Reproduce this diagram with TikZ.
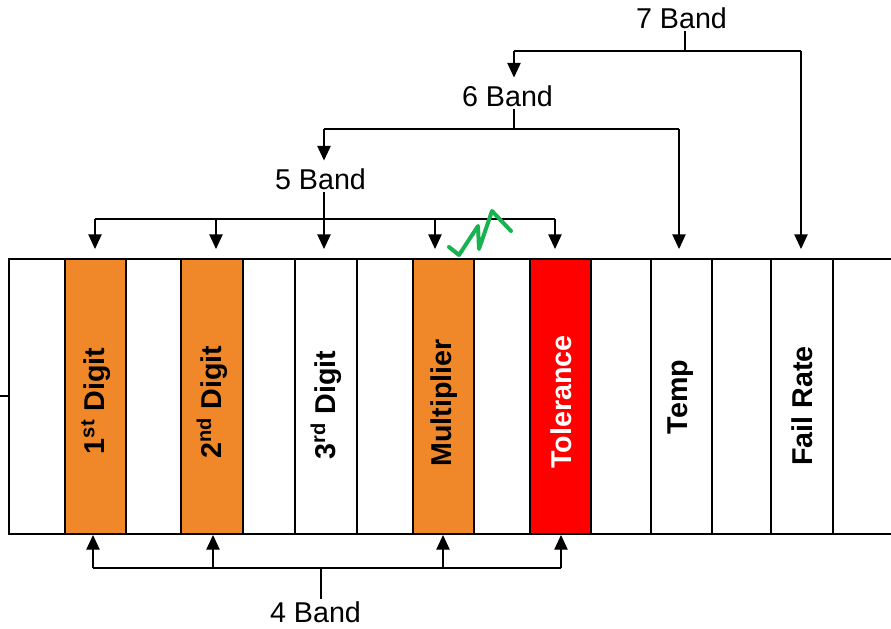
\documentclass[tikz,border=0pt]{standalone}
\usepackage{fontspec}
\setmainfont{Liberation Sans}
\usetikzlibrary{arrows.meta,calc}
\definecolor{bandorange}{RGB}{240,136,42}
\definecolor{bandred}{RGB}{255,0,0}
\definecolor{squiggle}{RGB}{24,178,80}
\tikzset{
  body/.style={line width=1pt},
  band/.style={draw=black,line width=1pt},
  bandtxt/.style={font=\fontsize{21.5}{24}\selectfont\bfseries,rotate=90,inner sep=0pt},
  lbl/.style={font=\fontsize{21.5}{24}\selectfont,inner sep=2pt},
  conn/.style={line width=1pt},
  arr/.style={line width=1pt,-{Triangle[length=11pt,width=10pt]}},
}
\begin{document}
\begin{tikzpicture}[x=0.75pt,y=-0.75pt]
\useasboundingbox (0,0) rectangle (891,628);
% resistor body
\draw[body] (891,259) -- (9,259) -- (9,534) -- (891,534);
\coordinate (lead) at (0,396);
\draw[body] (lead) -- (9,396);
% bands
\filldraw[band,fill=bandorange] (65,259) rectangle (126,534);
\filldraw[band,fill=bandorange] (181,259) rectangle (243,534);
\filldraw[band,fill=white] (295,259) rectangle (357,534);
\filldraw[band,fill=bandorange] (413,259) rectangle (474,534);
\filldraw[band,fill=bandred] (530,259) rectangle (591,534);
\filldraw[band,fill=white] (651,259) rectangle (712,534);
\filldraw[band,fill=white] (771,259) rectangle (833,534);
% band labels
\node[bandtxt] (d1) at (96,401) {1\textsuperscript{st} Digit};
\node[bandtxt] (d2) at (212,402) {2\textsuperscript{nd} Digit};
\node[bandtxt] (d3) at (326,405) {3\textsuperscript{rd} Digit};
\node[bandtxt] (mul) at (444,403) {Multiplier};
\node[bandtxt,text=white] (tol) at (561,402) {Tolerance};
\node[bandtxt] (tmp) at (681,397) {Temp};
\node[bandtxt] (fr) at (802,406) {Fail Rate};
% targets on the body
\coordinate (t1) at (95,249);
\coordinate (t2) at (216,249);
\coordinate (t3) at (324,249);
\coordinate (t4) at (435,249);
\coordinate (t5) at (555,249);
\coordinate (t6) at (679,249);
\coordinate (t7) at (801,249);
\coordinate (u1) at (93,535);
\coordinate (u2) at (213,535);
\coordinate (u3) at (443,535);
\coordinate (u4) at (561,535);
% labels
\node[lbl] (b4) at (315.5,612) {4 Band};
\node[lbl] (b5) at (320.5,179) {5 Band};
\node[lbl] (b6) at (507.5,96) {6 Band};
\node[lbl] (b7) at (681.5,18) {7 Band};
% 5 band
\coordinate (j5) at (324,219);
\draw[conn] (b5.south -| j5) -- (j5);
\draw[conn] (t1 |- j5) -- (t5 |- j5);
\foreach \t in {t1,t2,t3,t4,t5} \draw[arr] (\t |- j5) -- (\t);
% 6 band
\coordinate (j6) at (514,129);
\draw[conn] (b6.south -| j6) -- (j6);
\draw[conn] (j5 |- j6) -- (t6 |- j6);
\draw[arr] (j5 |- j6) -- ($(b5.north -| j5)+(0,-5)$);
\draw[arr] (t6 |- j6) -- (t6);
% 7 band
\coordinate (j7) at (685,51);
\draw[conn] (b7.south -| j7) -- (j7);
\draw[conn] (j6 |- j7) -- (t7 |- j7);
\draw[arr] (j6 |- j7) -- ($(b6.north -| j6)+(0,-5)$);
\draw[arr] (t7 |- j7) -- (t7);
% 4 band
\coordinate (j4) at (321,568);
\draw[conn] (b4.north -| j4) -- (j4);
\draw[conn] (u1 |- j4) -- (u4 |- j4);
\foreach \u in {u1,u2,u3,u4} \draw[arr] (\u |- j4) -- (\u);
% green squiggle
\draw[squiggle,line width=3pt,line join=round,line cap=round]
  (449,247) -- (459,255) -- (478,226) -- (479,249) -- (492,211) -- (511,231);
\end{tikzpicture}
\end{document}
